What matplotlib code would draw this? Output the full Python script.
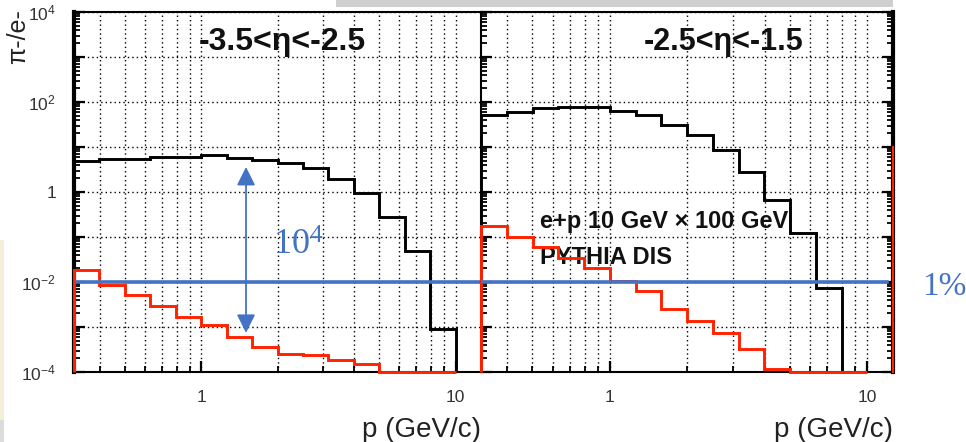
import numpy as np
import matplotlib
matplotlib.use("Agg")
import matplotlib.pyplot as plt
from matplotlib.ticker import LogLocator, FixedLocator, FuncFormatter, NullFormatter
from matplotlib.patches import Rectangle

plt.rcParams['font.family'] = ['Liberation Sans', 'DejaVu Sans']

# bin edges of the histograms (p in GeV/c)
edges = [0.316, 0.398, 0.501, 0.631, 0.794, 1.0, 1.259, 1.585, 1.995, 2.512,
         3.162, 3.981, 5.012, 6.310, 7.943, 10.0]

# -3.5 < eta < -2.5
black_left = [4.9, 5.3, 5.3, 6.1, 6.1, 6.6, 5.8, 5.1, 4.3, 3.4, 1.9, 0.97, 0.28, 0.049, 0.0009]
red_left = [0.0185, 0.0086, 0.0051, 0.0029, 0.00167, 0.0011, 0.0006, 0.00036, 0.00025,
            0.00024, 0.000185, 0.00015, 1e-4, 1e-4, 1e-4]

# -2.5 < eta < -1.5
black_right = [51, 61, 72, 76, 76, 63, 51, 31, 18.5, 8.6, 2.8, 0.66, 0.12, 0.0075, 0]
red_right = [0.175, 0.10, 0.059, 0.034, 0.020, 0.0105, 0.0063, 0.0025, 0.00138, 0.00072,
             0.00032, 0.000115, 1e-4, 1e-4, 1e-4]

# first bin of the next (cut off) panel, red curve
red_next_first = 10

titles = ['-3.5<\u03b7<-2.5', '-2.5<\u03b7<-1.5']
pid_level = 1e-2          # 1% line
arrow_p = 1.5
arrow_hi, arrow_lo = 3.6, 7.4e-4

x_lim = (0.316, 12.59)
y_lim = (1e-4, 1e4)

blue = '#4472C4'
red = '#ff2200'

fig = plt.figure(figsize=(9.66, 4.42), dpi=100)
W, H = 966.0, 442.0
axL = fig.add_axes([74 / W, 70 / H, 407 / W, 360 / H])
axR = fig.add_axes([481 / W, 70 / H, 412 / W, 360 / H])


def yfmt(v, pos):
    e = int(round(np.log10(v)))
    if e % 2:
        return ''
    if e == 0:
        return '1'
    return r'$\mathregular{10^{%d}}$' % e


def xfmt(v, pos):
    return '%g' % v


for ax, blk, rd in [(axL, black_left, red_left), (axR, black_right, red_right)]:
    ax.set_xscale('log')
    ax.set_yscale('log')
    ax.grid(False)
    ax.stairs(blk, edges, baseline=1e-4, color='black', lw=2.1, zorder=4)
    ax.stairs(rd, edges, baseline=1e-4, color=red, lw=2.1, zorder=5, clip_on=False)
    ax.set_xlim(*x_lim)
    ax.set_ylim(*y_lim)

    ax.xaxis.set_major_locator(FixedLocator([1, 10]))
    ax.xaxis.set_minor_locator(LogLocator(base=10, subs=np.arange(2, 10), numticks=20))
    ax.xaxis.set_major_formatter(FuncFormatter(xfmt))
    ax.xaxis.set_minor_formatter(NullFormatter())
    ax.yaxis.set_major_locator(LogLocator(base=10, numticks=20))
    ax.yaxis.set_minor_locator(LogLocator(base=10, subs=np.arange(2, 10), numticks=20))
    ax.yaxis.set_minor_formatter(NullFormatter())

    ax.grid(True, which='major', axis='y', color='black', lw=1.0, ls=(0, (1, 2.2)))
    ax.grid(True, which='both', axis='x', color='black', lw=1.0, ls=(0, (1, 2.2)))

    ax.tick_params(which='both', direction='in', top=False, labelsize=12.5,
                   labelcolor='#333333', color='black')
    ax.tick_params(which='major', length=8, width=1.6)
    ax.tick_params(which='minor', length=4, width=1.3)
    ax.tick_params(axis='x', which='both', pad=13)

    for s in ax.spines.values():
        s.set_linewidth(1.5)

    ax.axhline(pid_level, color=blue, lw=2.6, zorder=7)

    ax.set_xlabel('p (GeV/c)', fontsize=20, color='#222222', loc='right')
    ax.xaxis.set_label_coords(1.0, -0.162)
    ax.xaxis.label.set_va('center')

axL.yaxis.set_major_formatter(FuncFormatter(yfmt))
axL.tick_params(axis='y', pad=13)
axL.spines['left'].set_linewidth(3.0)
axL.spines['right'].set_visible(False)
axL.lines[-1].set_xdata([0.008, 1.0])

axR.yaxis.set_major_formatter(NullFormatter())
axR.tick_params(axis='y', which='both', right=True, labelleft=False)
axR.spines['right'].set_linewidth(3.0)
axR.lines[-1].set_xdata([0.0, 0.985])

# red curve of the next panel, just on the right frame
axR.plot([1, 1], [y_lim[0], red_next_first], color=red, lw=1.5, zorder=6,
         clip_on=False, transform=axR.get_yaxis_transform())

axL.text(0.513, 0.917, titles[0], transform=axL.transAxes, ha='center', va='center',
         fontsize=23, fontweight='bold', color='#111111')
axR.text(0.59, 0.917, titles[1], transform=axR.transAxes, ha='center', va='center',
         fontsize=22, fontweight='bold', color='#111111')
axR.text(0.143, 0.417, 'e+p 10 GeV \u00d7 100 GeV', transform=axR.transAxes,
         ha='left', va='center', fontsize=17, fontweight='bold', color='#111111')
axR.text(0.143, 0.317, 'PYTHIA DIS', transform=axR.transAxes,
         ha='left', va='center', fontsize=17, fontweight='bold', color='#111111')

# 10^4 arrow between the two curves
axL.annotate('', xy=(arrow_p, arrow_lo), xytext=(arrow_p, arrow_hi),
             arrowprops=dict(arrowstyle='<|-|>', color=blue, lw=1.3,
                             mutation_scale=28, shrinkA=0, shrinkB=0), zorder=8)
axL.text(0.489, 0.325, r'$\mathregular{10^{4}}$', transform=axL.transAxes,
         ha='left', va='baseline', fontsize=26, color=blue, family='Liberation Serif')
fig.text(922 / W, 1 - 295 / H, '1%', ha='left', va='baseline', fontsize=24,
         color=blue, family='Liberation Serif')

fig.text(18 / W, 1 - 9 / H, '\u03c0-/e-', rotation=90, ha='center', va='top',
         fontsize=18, color='#222222')

# slide leftovers: grey bar at the top, picture edge at the left
fig.add_artist(Rectangle((336 / W, 1 - 7 / H), (893 - 336) / W, 7 / H,
                         transform=fig.transFigure, color='#d0cfcf', lw=0))
fig.add_artist(Rectangle((0, 22 / H), 4 / W, 180 / H, transform=fig.transFigure,
                         color='#f4eedb', lw=0))
fig.add_artist(Rectangle((0, 0), 4 / W, 22 / H, transform=fig.transFigure,
                         color='#dcdcdc', lw=0))

fig.savefig('out.png', dpi=100)
